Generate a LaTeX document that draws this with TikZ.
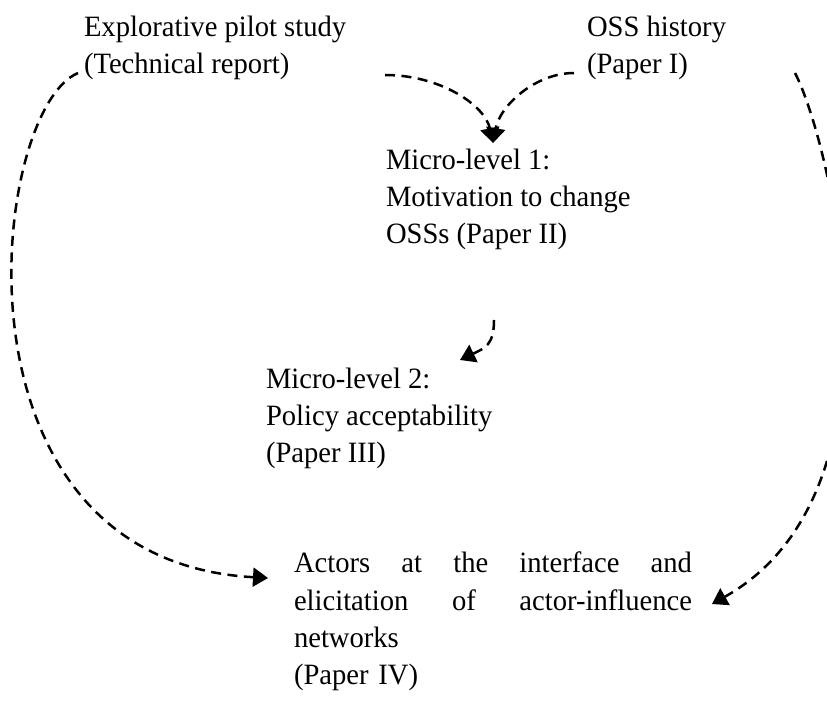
\documentclass[tikz,border=0pt]{standalone}
\usepackage{fontspec}
\setmainfont{Liberation Serif}[FakeStretch=0.97]
\usetikzlibrary{arrows.meta}
\tikzset{
  txt/.style={inner sep=0pt, outer sep=0pt, anchor=north west, align=left,
    font=\fontsize{29.6}{37.4}\selectfont},
  flow/.style={line width=2.5bp, dash pattern=on 10bp off 6.5bp,
    -{Triangle[length=15bp,width=19bp]}}
}
\begin{document}
\begin{tikzpicture}[x=1bp,y=-1bp]
\useasboundingbox (0,0) rectangle (827,704);
\clip (0,0) rectangle (827,704);

% text blocks (top edge = first baseline minus ascender height)
\node[txt] (pilot) at (84,16) {Explorative pilot study\\(Technical report)};
\node[txt] (hist)  at (587,16) {OSS history\\(Paper I)};
\node[txt] (micro1) at (386,149) {Micro-level 1:\\Motivation to change\\OSSs (Paper II)};
\node[txt] (micro2) at (266,368) {Micro-level 2:\\Policy acceptability\\(Paper III)};
\node[txt, text width=398bp] (actors) at (294,552)
  {Actors\hfill at\hfill the\hfill interface\hfill and\\
   elicitation\hfill of\hfill actor-influence\\
   networks\\
   (Paper IV)};

% connector end points
\coordinate (pilotOut) at (385,75);
\coordinate (histOut)  at (574,73);
\coordinate (m1In)     at (493,143);
\coordinate (pilotDown) at (78,73);
\coordinate (histDown)  at (795,73);
\coordinate (actL) at (268,578);
\coordinate (actR) at (712,604);
\coordinate (m1Out) at (494,320);
\coordinate (m2In)  at (460,360);

% pilot study and history feed micro-level 1
\draw[flow] (pilotOut) .. controls (440,75) and (485,105) .. (m1In);
\draw[flow] (histOut) .. controls (536,73) and (500,105) .. (m1In);

% micro-level 1 feeds micro-level 2
\draw[flow] (m1Out) .. controls (494,345) and (485,348) .. (m2In);

% long arcs down to the actors block
\draw[flow] (pilotDown) .. controls (-10,110) and (-60,560) .. (actL);
\draw[flow] (histDown) .. controls (830,140) and (915,490) .. (actR);
\end{tikzpicture}
\end{document}
